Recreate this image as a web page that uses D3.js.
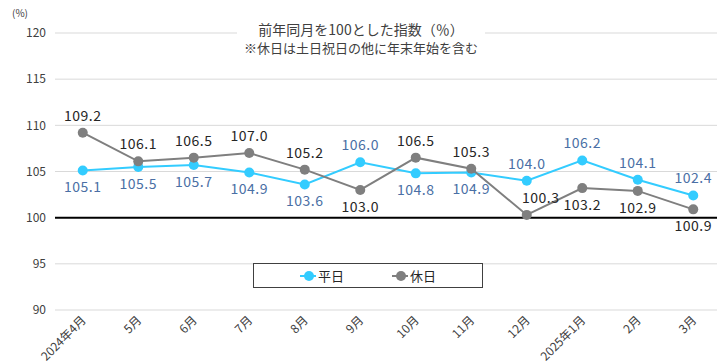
<!DOCTYPE html>
<html>
<head>
<meta charset="utf-8">
<script src="https://cdn.jsdelivr.net/npm/d3@7"></script>
<style>
  html, body { margin: 0; padding: 0; background: #fff; }
  svg { display: block; font-family: "Noto Sans CJK JP", "Noto Sans", sans-serif; }
</style>
</head>
<body>
<svg id="chart" width="717" height="364"></svg>
<script>
// Month labels (x axis)
const months = ["2024年4月", "5月", "6月", "7月", "8月", "9月", "10月", "11月", "12月", "2025年1月", "2月", "3月"];
// Index vs. same month of previous year (=100)
const weekday = [105.1, 105.5, 105.7, 104.9, 103.6, 106.0, 104.8, 104.9, 104.0, 106.2, 104.1, 102.4];
const holiday = [109.2, 106.1, 106.5, 107.0, 105.2, 103.0, 106.5, 105.3, 100.3, 103.2, 102.9, 100.9];
// Where each value label sits relative to its point
const weekdayLabelPos = ["below", "below", "below", "below", "below", "above", "below", "below", "above", "above", "above", "above"];
const holidayLabelPos = ["above", "above", "above", "above", "above", "below", "above", "above", "aboveRight", "below", "below", "below"];
const yTicks = [90, 95, 100, 105, 110, 115, 120];
const seriesNames = ["平日", "休日"];

const svg = d3.select("#chart");
const plotLeft = 55, plotRight = 721, plotTop = 33, plotBottom = 310;

const x = d3.scaleBand().domain(months).range([plotLeft, plotRight]).padding(0);
const y = d3.scaleLinear().domain([90, 120]).range([plotBottom, plotTop]);
const cx = m => x(m) + x.bandwidth() / 2;

// Horizontal gridlines
svg.append("g").selectAll("line")
  .data(yTicks.filter(t => t !== 100))
  .join("line")
  .attr("x1", plotLeft).attr("x2", 717)
  .attr("y1", d => y(d)).attr("y2", d => y(d))
  .attr("stroke", "#d9d9d9").attr("stroke-width", 1);

// Baseline at 100
svg.append("line")
  .attr("x1", plotLeft).attr("x2", 717)
  .attr("y1", y(100)).attr("y2", y(100))
  .attr("stroke", "#000").attr("stroke-width", 2);

// Y axis tick labels
svg.append("g").selectAll("text")
  .data(yTicks)
  .join("text")
  .attr("x", 46).attr("y", d => y(d))
  .attr("dy", "0.35em")
  .attr("text-anchor", "end")
  .attr("font-size", 12)
  .attr("fill", "#404040")
  .text(d => d);

svg.append("text")
  .attr("x", 12).attr("y", 17)
  .attr("font-size", 10).attr("fill", "#404040")
  .text("(%)");

// X axis labels, rotated
svg.append("g").selectAll("text")
  .data(months)
  .join("text")
  .attr("transform", d => `translate(${cx(d) + 4},${321}) rotate(-45)`)
  .attr("text-anchor", "end")
  .attr("font-size", 12)
  .attr("fill", "#404040")
  .text(d => d);

// Title block with white backing over the top gridline
svg.append("rect")
  .attr("x", 237).attr("y", 22).attr("width", 248).attr("height", 36)
  .attr("fill", "#fff");
svg.append("text")
  .attr("x", 361).attr("y", 35)
  .attr("text-anchor", "middle")
  .attr("font-size", 14).attr("fill", "#404040")
  .text("前年同月を100とした指数（％）");
svg.append("text")
  .attr("x", 361).attr("y", 53)
  .attr("text-anchor", "middle")
  .attr("font-size", 13).attr("fill", "#404040")
  .text("※休日は土日祝日の他に年末年始を含む");

const series = [
  { name: seriesNames[0], values: weekday, pos: weekdayLabelPos, color: "#33ccff", labelColor: "#4a6fa5" },
  { name: seriesNames[1], values: holiday, pos: holidayLabelPos, color: "#7f7f7f", labelColor: "#262626" }
];

const line = d3.line().x((d, i) => cx(months[i])).y(d => y(d));

series.forEach(s => {
  const g = svg.append("g");
  g.append("path")
    .datum(s.values)
    .attr("d", line)
    .attr("fill", "none")
    .attr("stroke", s.color)
    .attr("stroke-width", 2);
  g.selectAll("circle")
    .data(s.values)
    .join("circle")
    .attr("cx", (d, i) => cx(months[i]))
    .attr("cy", d => y(d))
    .attr("r", 5)
    .attr("fill", s.color);
});

// Value labels
series.forEach(s => {
  svg.append("g").selectAll("text")
    .data(s.values)
    .join("text")
    .attr("x", (d, i) => cx(months[i]) + (s.pos[i] === "aboveRight" ? 14 : 0))
    .attr("y", (d, i) => y(d) + (s.pos[i] === "below" ? 17 : -17))
    .attr("dy", "0.35em")
    .attr("text-anchor", "middle")
    .attr("font-size", 14)
    .attr("letter-spacing", 0.5)
    .attr("fill", s.labelColor)
    .text(d => d.toFixed(1));
});

// Legend
const legend = svg.append("g");
legend.append("rect")
  .attr("x", 253.5).attr("y", 263.5).attr("width", 229).attr("height", 24)
  .attr("fill", "#fff").attr("stroke", "#404040").attr("stroke-width", 1);
const legendItems = [
  { s: series[0], x0: 300 },
  { s: series[1], x0: 392 }
];
legendItems.forEach(({ s, x0 }) => {
  legend.append("line")
    .attr("x1", x0).attr("x2", x0 + 16)
    .attr("y1", 276).attr("y2", 276)
    .attr("stroke", s.color).attr("stroke-width", 2);
  legend.append("circle")
    .attr("cx", x0 + 9).attr("cy", 276).attr("r", 5)
    .attr("fill", s.color);
  legend.append("text")
    .attr("x", x0 + 18).attr("y", 276)
    .attr("dy", "0.35em")
    .attr("font-size", 13).attr("fill", "#262626")
    .text(s.name);
});
</script>
</body>
</html>
